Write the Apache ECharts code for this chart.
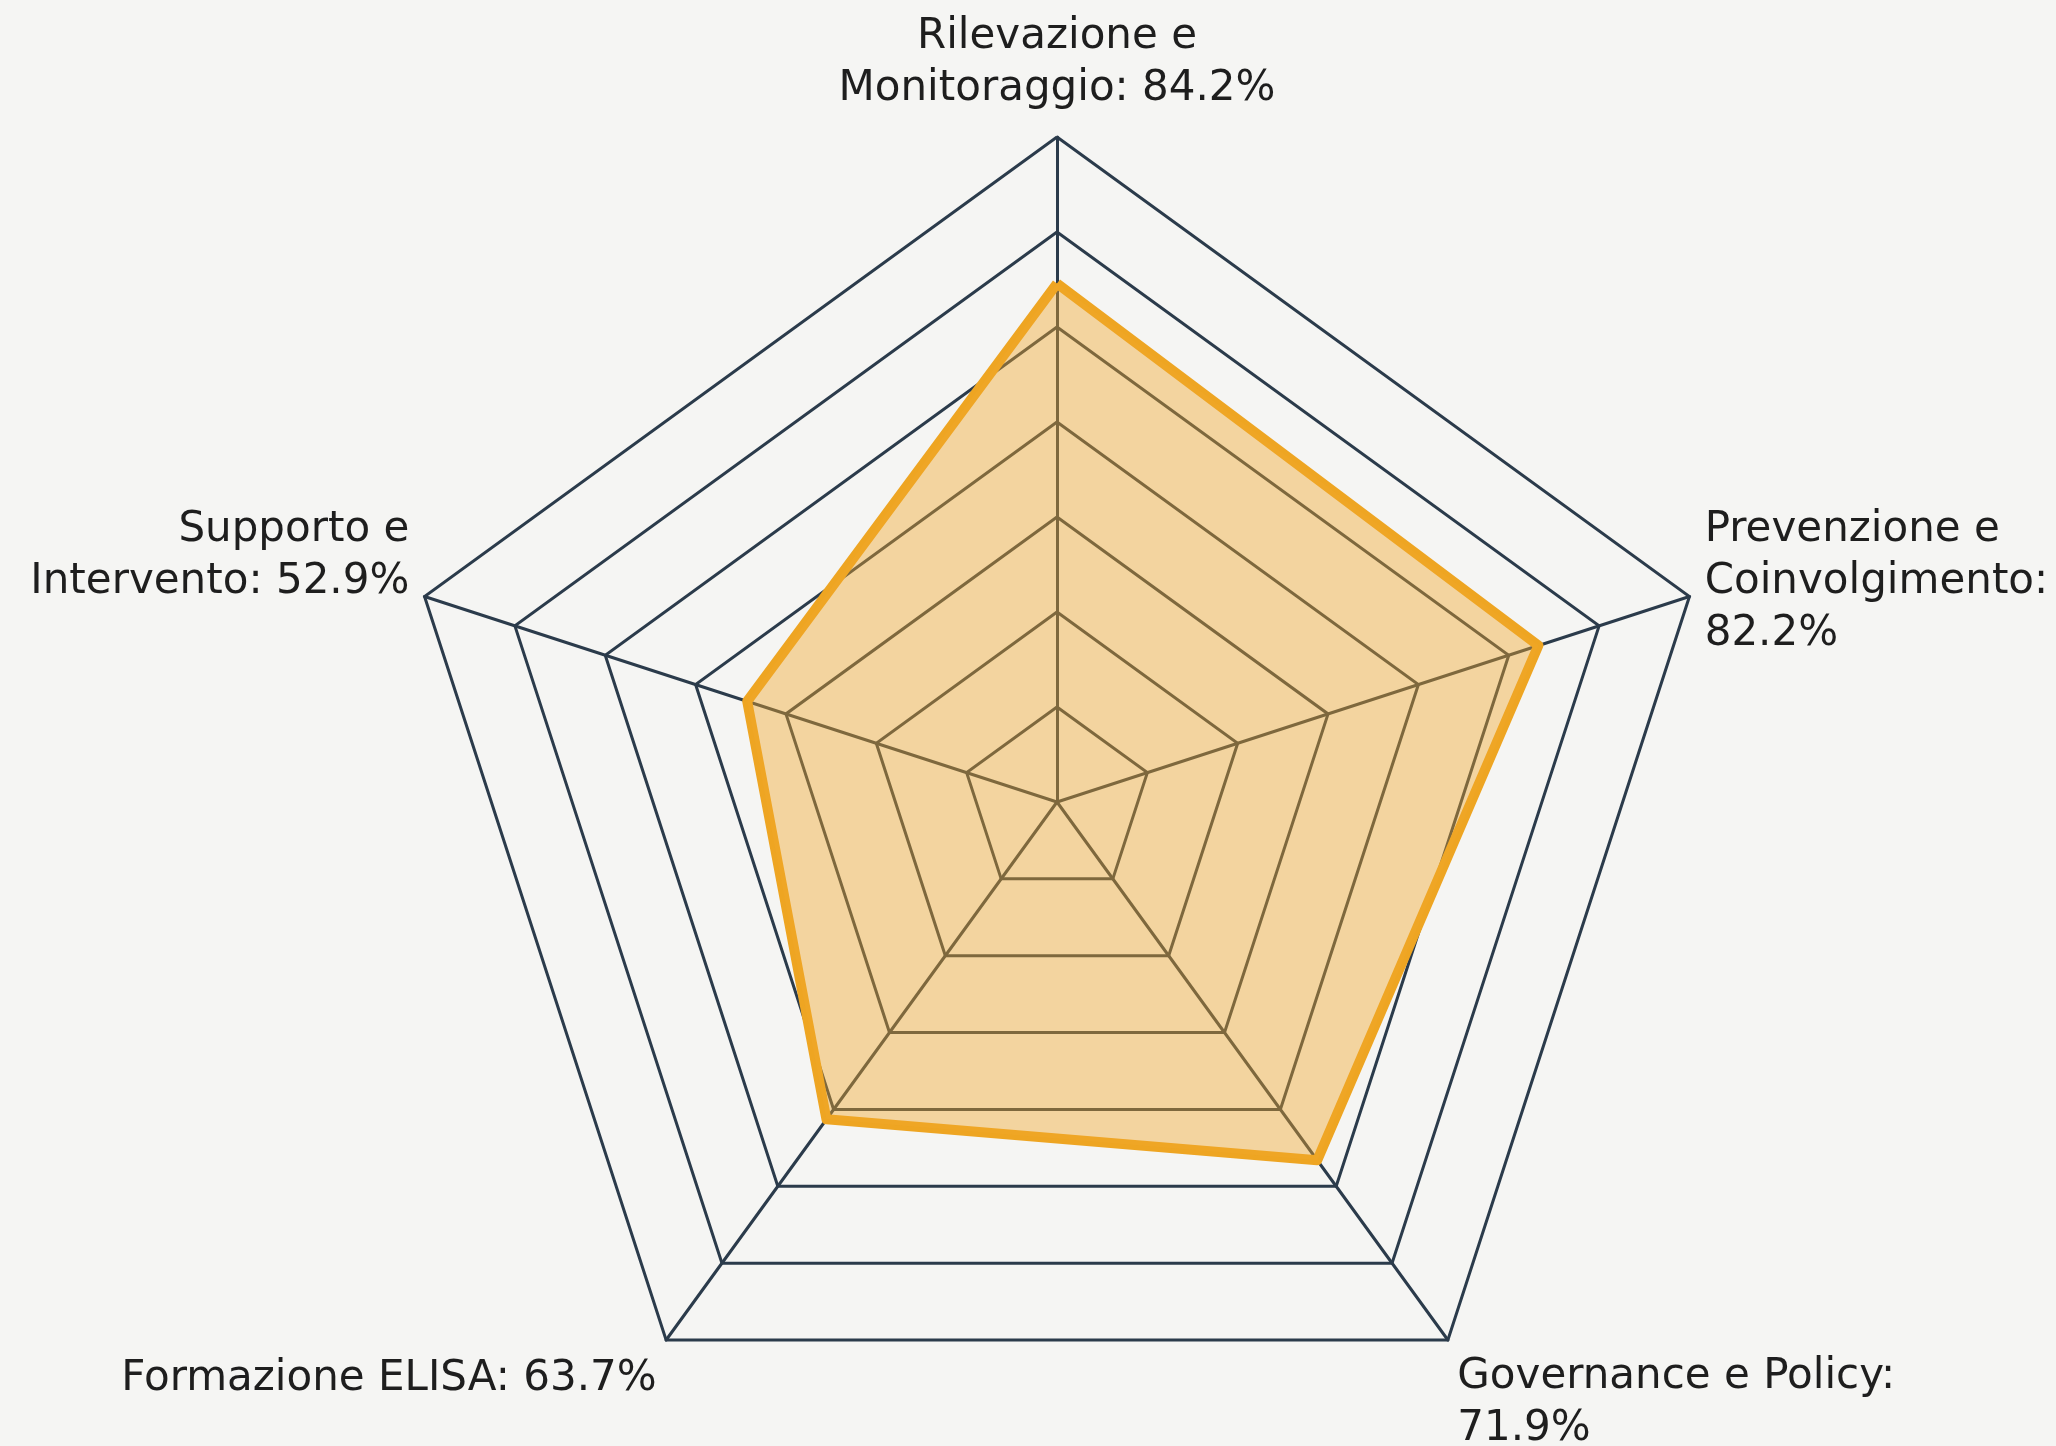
<!DOCTYPE html>
<html>
<head>
<meta charset="utf-8">
<script src="https://cdn.jsdelivr.net/npm/echarts@6/dist/echarts.min.js"></script>
<style>
  html, body { margin: 0; padding: 0; background: #f5f5f3; }
  #radarChart { width: 2056px; height: 1446px; }
</style>
</head>
<body>
<div id="radarChart"></div>
<script>
// indicators, counterclockwise from the top
var names = [
  "Rilevazione e\nMonitoraggio",
  "Supporto e\nIntervento",
  "Formazione ELISA",
  "Governance e Policy",
  "Prevenzione e\nCoinvolgimento"
];
var values = [84.2, 52.9, 63.7, 71.9, 82.2];
// value goes on a new line after the colon for these
var valueOnNewLine = [false, false, false, true, true];
var maxValue = 108;

// blank space above / below each label to nudge it (px)
var padTop = [0, 0, 52, 100, 0];
var padBottom = [6, 70, 0, 0, 18];

var myChart = echarts.init(document.getElementById("radarChart"));

var indicators = names.map(function (n) {
  return { name: n, max: maxValue };
});

var spacerStyles = {};
padTop.concat(padBottom).forEach(function (h) {
  if (h > 0) {
    spacerStyles["s" + h] = { fontSize: 4, lineHeight: h };
  }
});

var option = {
  backgroundColor: "#f5f5f3",
  radar: {
    center: [1057, 802],
    radius: 665,
    startAngle: 90,
    splitNumber: 7,
    shape: "polygon",
    indicator: indicators,
    nameGap: 16,
    axisName: {
      color: "#1e1e1e",
      fontFamily: "DejaVu Sans",
      fontSize: 42,
      lineHeight: 52,
      formatter: function (name, ind) {
        var i = names.indexOf(name);
        var text = name + ":" + (valueOnNewLine[i] ? "\n" : " ") + values[i] + "%";
        if (padTop[i] > 0) {
          text = "{s" + padTop[i] + "| }\n" + text;
        }
        if (padBottom[i] > 0) {
          text = text + "\n{s" + padBottom[i] + "| }";
        }
        return text;
      },
      rich: spacerStyles
    },
    splitArea: { show: false },
    splitLine: {
      lineStyle: { color: "#2b3b4b", width: 3 }
    },
    axisLine: {
      lineStyle: { color: "#2b3b4b", width: 3 }
    }
  },
  series: [
    {
      type: "radar",
      symbol: "none",
      silent: true,
      data: [
        {
          value: values,
          lineStyle: { color: "#eea522", width: 10 },
          areaStyle: { color: "#f0a82a", opacity: 0.42 }
        }
      ]
    }
  ]
};

myChart.setOption(option);
</script>
</body>
</html>
